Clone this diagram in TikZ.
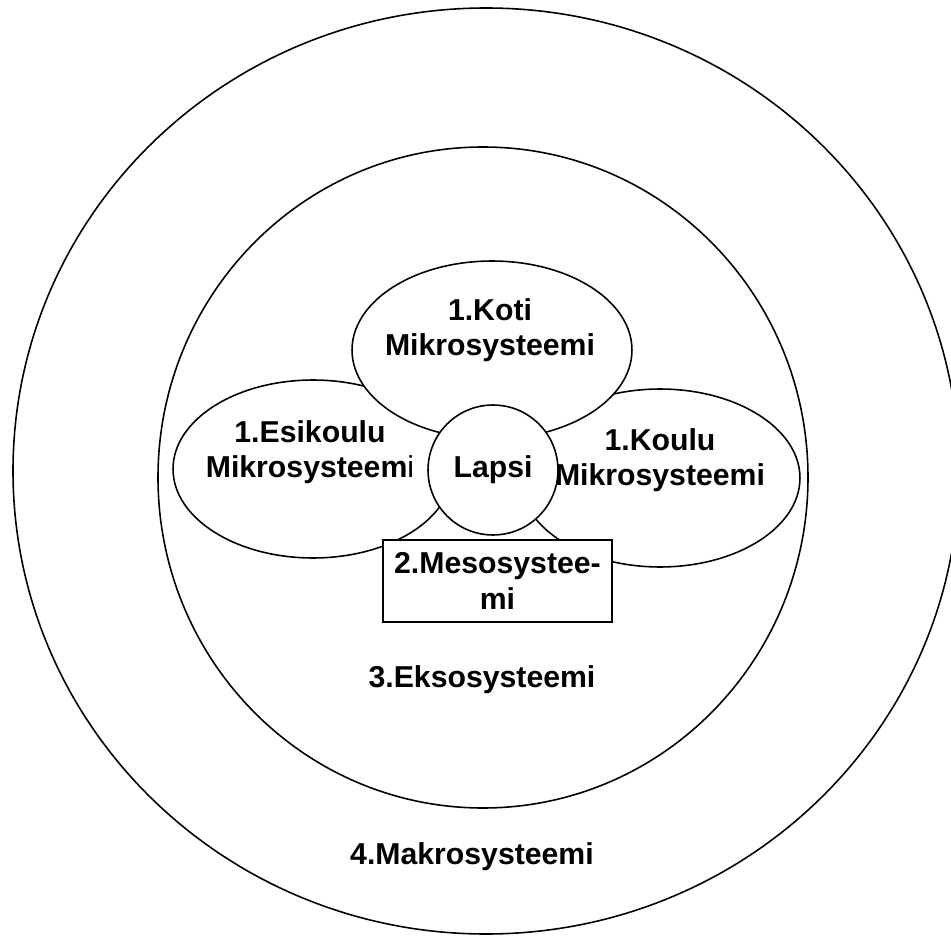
\documentclass[tikz,border=0pt]{standalone}
\usepackage{fontspec}
\setmainfont{Liberation Sans}
\usetikzlibrary{shapes.geometric}

\begin{document}
\begin{tikzpicture}[x=0.02cm, y=-0.02cm, line width=0.9pt,
    kupla/.style={ellipse, draw, fill=white, minimum width=5.6cm, minimum height=3.56cm, inner sep=0pt},
    teksti/.style={font=\fontsize{17.2}{20}\selectfont\bfseries, align=center, inner sep=0pt}]

    \useasboundingbox (0,0) rectangle (951,936);

    % Makro- ja eksosysteemi
    \draw (486,471) ellipse [x radius=473, y radius=463];
    \draw (483,477.5) ellipse [x radius=325, y radius=330.5];

    % Mikrosysteemit
    \node[kupla] (esikoulu) at (313,469) {};
    \node[kupla] (koulu) at (660,478) {};
    \node[kupla] (koti) at (492,350) {};

    % Lapsi keskellä
    \node[circle, draw, fill=white, minimum size=2.6cm, teksti] (lapsi) at (493,470) {Lapsi};

    % Mesosysteemi
    \node[draw, fill=white, minimum width=4.58cm, minimum height=1.64cm, teksti] (meso) at (497.5,581) {2.Mesosystee-\\mi};

    % Tekstit
    \node[teksti] (kotiteksti) at ([shift={(-0.04cm,0.4cm)}]koti.center) {1.Koti\\Mikrosysteemi};
    \node[teksti] (esikouluteksti) at ([shift={(-0.06cm,0.34cm)}]esikoulu.center) {1.Esikoulu\\Mikrosysteem{\mdseries i}};
    \node[teksti] (kouluteksti) at ([yshift=0.36cm]koulu.center) {1.Koulu\\Mikrosysteemi};
    \node[teksti] (ekso) at (482,680) {3.Eksosysteemi};
    \node[teksti] (makro) at (472,857) {4.Makrosysteemi};

\end{tikzpicture}
\end{document}
